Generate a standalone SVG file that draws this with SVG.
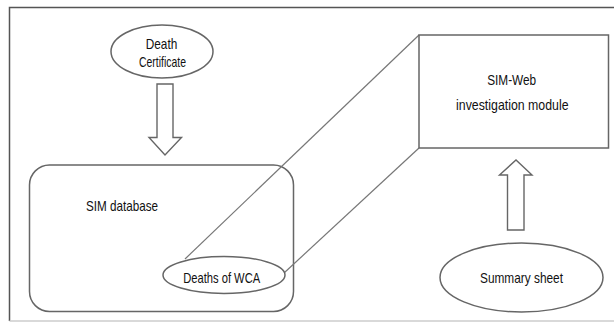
<svg xmlns="http://www.w3.org/2000/svg" width="614" height="330" viewBox="0 0 614 330">
<style>
.shape{fill:#fff;stroke:#666;stroke-width:1.5}
.arrow{fill:#fff;stroke:#666;stroke-width:1.4;stroke-linejoin:miter}
.conn{fill:none;stroke:#777;stroke-width:1.2}
text{font-family:"Liberation Sans Narrow","Liberation Sans",Arial,sans-serif;font-size:15px;fill:#111}
.c{text-anchor:middle}
</style>
<rect width="614" height="330" fill="#fff"/>
<g id="frame">
<path d="M614,7.5 H9.5 V321" fill="none" stroke="#555" stroke-width="1.5"/>
<line x1="9.5" y1="321" x2="614" y2="321" stroke="#ccc" stroke-width="1.5"/>
</g>
<g id="sim-database">
<rect class="shape" x="29.5" y="165" width="264" height="146.5" rx="20" ry="20"/>
<text x="86" y="211" textLength="72" lengthAdjust="spacingAndGlyphs">SIM database</text>
</g>
<g id="connectors">
<line class="conn" x1="185" y1="259" x2="419" y2="35"/>
<line class="conn" x1="284" y1="273" x2="419" y2="148"/>
<polygon id="arrow-down" class="arrow" points="157,84 173,84 173,137.5 181.5,137.5 165,155 149,137.5 157,137.5"/>
<polygon id="arrow-up" class="arrow" points="507.5,230 524,230 524,175 532,175 516,160 499.5,175 507.5,175"/>
</g>
<g id="death-certificate">
<ellipse class="shape" cx="162" cy="51.5" rx="51" ry="26.5"/>
<text class="c" x="161.5" y="49" textLength="31.5" lengthAdjust="spacingAndGlyphs">Death</text>
<text class="c" x="162.5" y="66.5" textLength="47" lengthAdjust="spacingAndGlyphs">Certificate</text>
</g>
<g id="deaths-of-wca">
<ellipse class="shape" cx="224" cy="275" rx="61" ry="18.5"/>
<text class="c" x="221.7" y="283" textLength="77" lengthAdjust="spacingAndGlyphs">Deaths of WCA</text>
</g>
<g id="sim-web">
<rect class="shape" x="419" y="35" width="189.5" height="113"/>
<text class="c" x="511.7" y="85" textLength="49" lengthAdjust="spacingAndGlyphs">SIM-Web</text>
<text class="c" x="512.3" y="110" textLength="112.5" lengthAdjust="spacingAndGlyphs">investigation module</text>
</g>
<g id="summary-sheet">
<ellipse class="shape" cx="521.5" cy="277.5" rx="81.5" ry="34.5"/>
<text class="c" x="521.5" y="283" textLength="83" lengthAdjust="spacingAndGlyphs">Summary sheet</text>
</g>
</svg>
